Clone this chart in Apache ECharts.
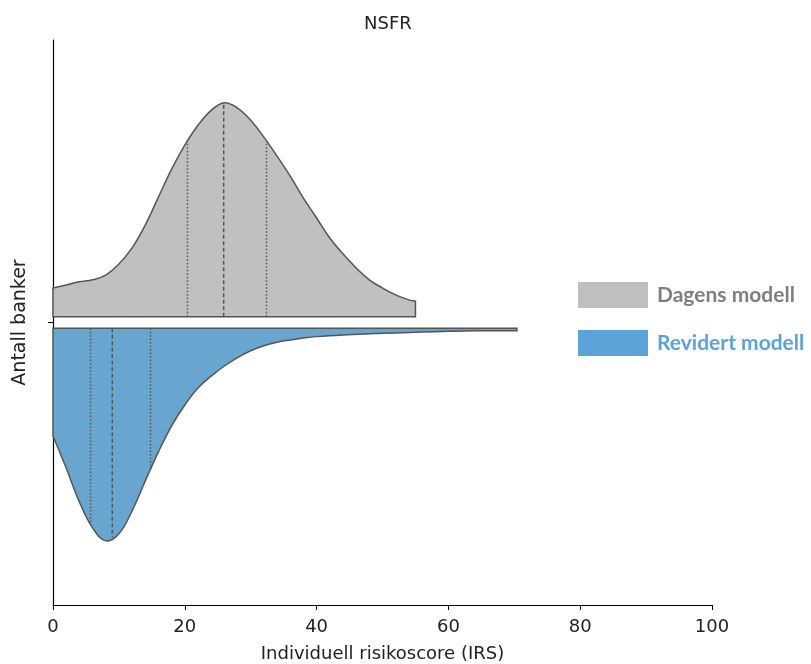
<!DOCTYPE html>
<html>
<head>
<meta charset="utf-8">
<title>NSFR</title>
<script src="https://cdn.jsdelivr.net/npm/echarts@6/dist/echarts.min.js"></script>
<style>
  html, body { margin: 0; padding: 0; background: #fff; }
  #chart { width: 811px; height: 664px; }
</style>
</head>
<body>
<div id="chart"></div>
<script>
// tetthet, x = IRS
const xDagens = [0, 2, 4, 6, 8, 10, 12, 14, 16, 18, 20, 22, 24, 26, 28, 30, 32, 34, 36, 38, 40, 42, 44, 46, 48, 50, 52, 54, 55];
const dagens = [10.2, 11.3, 12.4, 13.1, 14.8, 18.7, 24.4, 32.5, 42.4, 52.3, 60.8, 67.8, 73.1, 75.8, 73.9, 69.6, 63.6, 56.9, 49.8, 42.0, 35.0, 27.9, 22.3, 17.3, 13.1, 10.2, 7.8, 6.0, 5.5];

const xRevidert = [0, 2, 4, 6, 8, 10, 12, 14, 16, 18, 20, 22, 24, 26, 28, 30, 32, 34, 36, 38, 40, 44, 48, 52, 56, 60, 64, 68, 70.4];
const revidert = [38.2, 49.5, 61.5, 70.7, 75.3, 72.8, 64.7, 54.1, 43.8, 34.6, 27.2, 21.2, 17.0, 13.4, 10.4, 8.0, 6.2, 5.0, 4.2, 3.5, 3.0, 2.4, 2.0, 1.7, 1.4, 1.1, 0.9, 0.9, 0.9];

// kvartiler: [nedre, median, øvre]
const kvartilDagens = [20.4, 25.9, 32.4];
const kvartilRevidert = [5.7, 9.0, 14.8];

const xTicks = [0, 20, 40, 60, 80, 100];

const GAP = 2;          // avstand fra midtlinjen
const OUTLINE = '#555555';

// lineær verdi på kurven i punkt x
function densAt(xs, ys, x) {
  for (let i = 0; i < xs.length - 1; i++) {
    if (x >= xs[i] && x <= xs[i + 1]) {
      let t = (x - xs[i]) / (xs[i + 1] - xs[i]);
      return ys[i] + t * (ys[i + 1] - ys[i]);
    }
  }
  return 0;
}

// halv fiolin: sign 1 = opp, -1 = ned
function violinRenderer(xs, ys, quart, sign, fill) {
  return function (params, api) {
    let base = sign * GAP;
    let n = xs.length;
    let pts = [];
    let first = api.coord([xs[0], base]);
    let last = api.coord([xs[n - 1], base]);
    // dupliserte hjørner gir skarpe kanter med smooth
    pts.push(first, first);
    for (let i = 0; i < n; i++) {
      let p = api.coord([xs[i], base + sign * ys[i]]);
      if (i === 0 || i === n - 1) pts.push(p, p);
      else pts.push(p);
    }
    pts.push(last, last);

    let children = [{
      type: 'polygon',
      shape: { points: pts, smooth: 0.4 },
      style: { fill: fill, stroke: OUTLINE, lineWidth: 1.5 }
    }];

    quart.forEach(function (q, k) {
      let p0 = api.coord([q, base]);
      let p1 = api.coord([q, base + sign * densAt(xs, ys, q)]);
      children.push({
        type: 'line',
        shape: { x1: p0[0], y1: p0[1], x2: p1[0], y2: p1[1] },
        style: {
          stroke: OUTLINE,
          lineWidth: 1.5,
          lineDash: k === 1 ? [4, 2.5] : [1.5, 2]
        }
      });
    });
    return { type: 'group', children: children };
  };
}

const myChart = echarts.init(document.getElementById('chart'));

const option = {
  backgroundColor: '#fff',
  animation: false,
  textStyle: { fontFamily: 'DejaVu Sans' },
  title: {
    text: 'NSFR',
    left: 383,
    textAlign: 'center',
    top: 10,
    textStyle: { fontSize: 18, fontWeight: 'normal', color: '#222', fontFamily: 'DejaVu Sans' }
  },
  legend: {
    orient: 'vertical',
    left: 578,
    top: 282,
    padding: 0,
    itemWidth: 70,
    itemHeight: 26,
    itemGap: 22,
    icon: 'rect',
    textStyle: { fontFamily: 'Lato', fontWeight: 'bold', fontSize: 21, padding: [0, 0, 0, 4] },
    data: [
      { name: 'Dagens modell', itemStyle: { color: '#bfbfbf', borderWidth: 0 }, textStyle: { color: '#7f7f7f' } },
      { name: 'Revidert modell', itemStyle: { color: '#5ba3d9', borderWidth: 0 }, textStyle: { color: '#5ba3d9' } }
    ]
  },
  grid: { left: 53, right: 99, top: 40, bottom: 59, outerBoundsMode: 'none' },
  xAxis: {
    type: 'value',
    min: 0,
    max: 100,
    interval: 20,
    name: 'Individuell risikoscore (IRS)',
    nameLocation: 'middle',
    nameGap: 40,
    nameTextStyle: { fontSize: 18, color: '#222', fontFamily: 'DejaVu Sans' },
    axisLine: { onZero: false, lineStyle: { color: '#000', width: 1.2 } },
    axisTick: { length: 5, lineStyle: { color: '#000' } },
    axisLabel: {
      fontSize: 18, color: '#222', margin: 13,
      formatter: function (v) { return xTicks.indexOf(v) >= 0 ? String(v) : ''; }
    },
    splitLine: { show: false }
  },
  yAxis: {
    type: 'value',
    min: -100,
    max: 100,
    name: 'Antall banker',
    nameLocation: 'middle',
    nameGap: 23,
    nameTextStyle: { fontSize: 19, color: '#222', fontFamily: 'DejaVu Sans' },
    axisLine: { show: true, onZero: false, lineStyle: { color: '#000', width: 1.2 } },
    axisTick: { show: true, length: 5, customValues: [0], lineStyle: { color: '#000' } },
    axisLabel: { show: false },
    splitLine: { show: false }
  },
  series: [
    {
      name: 'Dagens modell',
      type: 'custom',
      data: [[0, 0]],
      itemStyle: { color: '#bfbfbf' },
      renderItem: violinRenderer(xDagens, dagens, kvartilDagens, 1, '#c0c0c0')
    },
    {
      name: 'Revidert modell',
      type: 'custom',
      data: [[0, 0]],
      itemStyle: { color: '#5ba3d9' },
      renderItem: violinRenderer(xRevidert, revidert, kvartilRevidert, -1, '#69a6cf')
    }
  ]
};

myChart.setOption(option);
</script>
</body>
</html>
